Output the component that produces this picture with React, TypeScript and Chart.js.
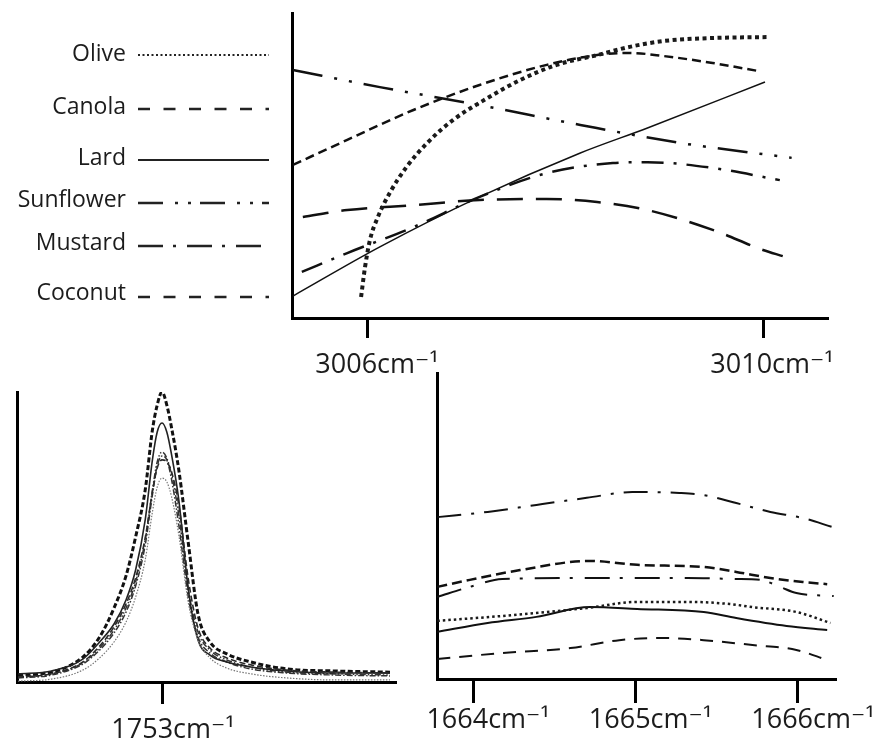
import React, { useEffect, useRef } from 'react';
import { Chart, registerables } from 'chart.js';
Chart.register(...registerables);

// ---------- shared ----------
const seriesNames = ['Olive', 'Canola', 'Lard', 'Sunflower', 'Mustard', 'Coconut'];

// ---------- top panel (3006–3010 cm-1) ----------
const topTicks = [3006, 3010];
const topOliveX = [3005.93, 3005.97, 3006.02, 3006.10, 3006.22, 3006.39, 3006.60, 3006.86, 3007.21, 3007.54, 3007.91, 3008.32, 3008.65, 3008.99, 3009.49, 3010.04];
const topOliveY = [6.9, 16.7, 25.6, 33.1, 41.0, 49.5, 57.4, 64.9, 72.1, 78.0, 83.0, 86.2, 88.9, 90.8, 91.8, 92.1];
const topCanolaX = [3005.34, 3005.79, 3006.46, 3007.13, 3007.81, 3008.32, 3008.83, 3009.49, 3010.0, 3010.2];
const topCanolaY = [33.1, 35.4, 37.0, 38.7, 39.0, 38.0, 35.4, 28.9, 22.3, 20.3];
const topLardX = [3005.24, 3006.12, 3007.13, 3008.15, 3008.83, 3010.02];
const topLardY = [7.2, 23.3, 39.7, 54.1, 62.3, 77.4];
const topSunflowerX = [3005.24, 3006.12, 3007.13, 3008.15, 3009.16, 3010.29];
const topSunflowerY = [81.3, 75.7, 69.8, 63.3, 57.4, 52.5];
const topMustardX = [3005.33, 3005.79, 3006.46, 3007.13, 3007.81, 3008.48, 3008.83, 3009.49, 3010.17];
const topMustardY = [15.1, 21.3, 29.8, 39.7, 47.5, 50.8, 51.1, 49.2, 45.2];
const topCoconutX = [3005.24, 3005.79, 3006.46, 3007.13, 3007.81, 3008.32, 3008.65, 3008.99, 3009.49, 3009.95];
const topCoconutY = [50.2, 58.4, 68.2, 76.4, 83.0, 86.2, 86.9, 85.9, 83.6, 81.0];

// ---------- bottom-left panel (1753 cm-1 carbonyl band) ----------
const blTicks = [1753];
const blX = [1693, 1707, 1720, 1727, 1733, 1738, 1742, 1746, 1749, 1751, 1753, 1755, 1757, 1760, 1764, 1768, 1773, 1780, 1790, 1805, 1825, 1848];
const blOliveY = [0.3, 1, 4.1, 8.3, 13.8, 20.7, 29.3, 42.1, 58.6, 67.2, 70.3, 69, 63.8, 50.7, 27.2, 14.5, 8.3, 4.8, 2.8, 1.4, 0.7, 0.7];
const blCanolaY = [1.7, 2.8, 6.9, 12.4, 19, 26.9, 35.9, 49.7, 65.5, 73.8, 76.6, 75.9, 72.4, 61, 35.2, 18.6, 11.7, 8.3, 5.9, 4.1, 3.4, 3.1];
const blLardY = [2.8, 3.8, 7.9, 13.8, 20, 28.3, 38.6, 55.9, 76.6, 86.2, 89.3, 86.2, 78.3, 62.8, 31.7, 14.5, 9.3, 6.9, 5.2, 3.8, 3.1, 3.1];
const blSunflowerY = [1.7, 2.8, 6.6, 11.7, 17.9, 25.5, 34.5, 49, 66.2, 75.9, 79.3, 77.2, 71.4, 57.6, 31.7, 17.2, 11, 7.6, 5.2, 3.4, 2.8, 2.4];
const blMustardY = [1.4, 2.4, 6.2, 11, 16.9, 24.1, 33.1, 47.2, 64.5, 74.5, 77.9, 76.6, 69.7, 54.1, 29, 15.5, 10, 6.9, 4.5, 3.1, 2.4, 2.1];
const blCoconutY = [2.4, 3.4, 8.6, 15.5, 25.5, 36.6, 50, 66.2, 86.9, 95.5, 100, 95.5, 87.6, 73.1, 47.6, 23.4, 13.8, 9.7, 6.9, 4.5, 3.8, 3.4];

// ---------- bottom-right panel (1664–1666 cm-1) ----------
const brTicks = [1664, 1665, 1666];
const brOliveX = [1663.78, 1664.18, 1664.70, 1665.01, 1665.32, 1665.58, 1665.72, 1665.99, 1666.20];
const brOliveY = [19.0, 20.6, 23.2, 25.2, 25.2, 24.5, 23.5, 21.9, 18.3];
const brCanolaX = [1663.78, 1664.18, 1664.60, 1664.90, 1665.17, 1665.42, 1665.72, 1665.99, 1666.18];
const brCanolaY = [6.5, 8.5, 10.1, 12.7, 13.4, 12.7, 11.1, 9.5, 6.2];
const brLardX = [1663.78, 1664.09, 1664.39, 1664.72, 1665.01, 1665.42, 1665.62, 1665.93, 1666.18];
const brLardY = [15.4, 18.3, 20.3, 23.5, 22.9, 21.9, 19.9, 17.3, 16.0];
const brSunflowerX = [1663.78, 1664.09, 1664.39, 1664.70, 1664.98, 1665.27, 1665.42, 1665.62, 1665.83, 1666.03, 1666.21];
const brSunflowerY = [52.9, 54.6, 56.9, 59.2, 61.1, 60.8, 60.1, 57.5, 54.6, 52.6, 49.7];
const brMustardX = [1663.78, 1663.98, 1664.18, 1664.70, 1665.32, 1665.62, 1665.77, 1665.89, 1665.99, 1666.22];
const brMustardY = [26.8, 30.1, 32.7, 33.0, 33.0, 32.7, 32.4, 30.1, 28.1, 27.1];
const brCoconutX = [1663.78, 1663.98, 1664.29, 1664.72, 1665.01, 1665.42, 1665.62, 1665.83, 1666.03, 1666.18];
const brCoconutY = [30.1, 32.4, 35.6, 38.6, 37.3, 36.6, 35.0, 33.0, 31.7, 31.0];

type Style = { color: string; width: number; dash: number[] };

const topStyles: Style[] = [
  { color: '#1a1a1a', width: 4, dash: [4, 3.5] },
  { color: '#111', width: 2.5, dash: [26, 13] },
  { color: '#111', width: 1.5, dash: [] },
  { color: '#111', width: 2.5, dash: [30, 12, 3, 12, 3, 12] },
  { color: '#111', width: 2.5, dash: [22, 10, 3, 10] },
  { color: '#111', width: 2.5, dash: [9, 5] },
];
const blStyles: Style[] = [
  { color: '#777', width: 1.2, dash: [1.5, 1.5] },
  { color: '#2a2a2a', width: 1.6, dash: [6, 3] },
  { color: '#222', width: 1.6, dash: [] },
  { color: '#333', width: 1.5, dash: [6, 2, 1.5, 2, 1.5, 2] },
  { color: '#333', width: 1.5, dash: [6, 2, 1.5, 2] },
  { color: '#111', width: 3, dash: [5, 2.5] },
];
const brStyles: Style[] = [
  { color: '#1a1a1a', width: 2.5, dash: [2.5, 3] },
  { color: '#111', width: 2, dash: [13, 9] },
  { color: '#111', width: 2, dash: [] },
  { color: '#111', width: 2, dash: [24, 10, 3, 10] },
  { color: '#111', width: 2, dash: [25, 10, 3, 12] },
  { color: '#111', width: 2.5, dash: [10, 5] },
];
const legendStyles: Style[] = [
  { color: '#222', width: 2, dash: [2, 2.5] },
  { color: '#222', width: 2.5, dash: [12, 13.5] },
  { color: '#222', width: 2, dash: [] },
  { color: '#222', width: 2.5, dash: [25, 12, 3, 10, 3, 9] },
  { color: '#222', width: 2.5, dash: [25, 10, 3, 11] },
  { color: '#222', width: 2.5, dash: [12, 13.5] },
];

function ds(label: string, xs: number[], ys: number[], st: Style) {
  return {
    label,
    data: xs.map((x, i) => ({ x, y: ys[i] })),
    borderColor: st.color,
    backgroundColor: st.color,
    borderWidth: st.width,
    borderDash: st.dash,
    borderCapStyle: 'butt',
    pointRadius: 0,
    fill: false,
    cubicInterpolationMode: 'monotone',
  };
}

const LABEL_FONT = { family: '"Open Sans", "DejaVu Sans", sans-serif', size: 27 };

function xAxis(min: number, max: number, ticks: number[], tickLen: number, pad: number, labelOffset: number, height: number) {
  return {
    type: 'linear',
    min,
    max,
    afterBuildTicks: (s: any) => {
      s.ticks = ticks.map((v) => ({ value: v }));
    },
    afterFit: (s: any) => {
      s.height = height;
      s.paddingLeft = 0;
      s.paddingRight = 0;
    },
    grid: { display: true, drawOnChartArea: false, drawTicks: true, tickLength: tickLen, tickWidth: 3, tickColor: '#000', color: '#000', lineWidth: 3 },
    border: { display: true, color: '#000', width: 3 },
    ticks: {
      padding: pad,
      labelOffset,
      maxRotation: 0,
      autoSkip: false,
      color: '#1c1c1c',
      font: LABEL_FONT,
      callback: (v: any) => `${v}cm⁻¹`,
    },
  };
}

function yAxis() {
  return {
    type: 'linear',
    min: 0,
    max: 100,
    display: true,
    ticks: { display: false },
    grid: { display: false, drawTicks: false },
    border: { display: true, color: '#000', width: 3 },
    afterFit: (s: any) => {
      s.width = 0;
    },
  };
}

const legendPlugin = {
  id: 'sideLegend',
  afterDraw(chart: any) {
    const ctx = chart.ctx;
    const textY = [54, 107, 158, 200, 243, 293];
    const lineY = [55, 109, 160, 203, 246, 297];
    ctx.save();
    ctx.font = '23px "Open Sans", "DejaVu Sans", sans-serif';
    ctx.fillStyle = '#1c1c1c';
    ctx.textAlign = 'right';
    ctx.textBaseline = 'middle';
    chart.data.datasets.forEach((d: any, i: number) => {
      ctx.fillText(d.label, 126, textY[i]);
      const st = legendStyles[i];
      ctx.strokeStyle = st.color;
      ctx.lineWidth = st.width;
      ctx.setLineDash(st.dash);
      ctx.beginPath();
      ctx.moveTo(138, lineY[i]);
      ctx.lineTo(269, lineY[i]);
      ctx.stroke();
    });
    ctx.restore();
  },
};

function baseOptions(padding: any, x: any) {
  return {
    responsive: false,
    animation: false,
    events: [],
    layout: { padding },
    plugins: { legend: { display: false }, tooltip: { enabled: false } },
    scales: { x, y: yAxis() },
  };
}

const topConfig = () => ({
  type: 'line',
  data: {
    datasets: [
      ds(seriesNames[0], topOliveX, topOliveY, topStyles[0]),
      ds(seriesNames[1], topCanolaX, topCanolaY, topStyles[1]),
      ds(seriesNames[2], topLardX, topLardY, topStyles[2]),
      ds(seriesNames[3], topSunflowerX, topSunflowerY, topStyles[3]),
      ds(seriesNames[4], topMustardX, topMustardY, topStyles[4]),
      ds(seriesNames[5], topCoconutX, topCoconutY, topStyles[5]),
    ],
  },
  options: baseOptions({ left: 292, top: 13, right: 53, bottom: 0 }, xAxis(3005.2304, 3010.648, topTicks, 20, 11, 9, 424)),
  plugins: [legendPlugin],
});

const blConfig = () => ({
  type: 'line',
  data: {
    datasets: [
      ds(seriesNames[0], blX, blOliveY, blStyles[0]),
      ds(seriesNames[1], blX, blCanolaY, blStyles[1]),
      ds(seriesNames[2], blX, blLardY, blStyles[2]),
      ds(seriesNames[3], blX, blSunflowerY, blStyles[3]),
      ds(seriesNames[4], blX, blMustardY, blStyles[4]),
      ds(seriesNames[5], blX, blCoconutY, blStyles[5]),
    ],
  },
  options: baseOptions({ left: 17, top: 392, right: 485, bottom: 0 }, xAxis(1692.58, 1850.08, blTicks, 22, 10, 11, 60)),
});

const brConfig = () => ({
  type: 'line',
  data: {
    datasets: [
      ds(seriesNames[0], brOliveX, brOliveY, brStyles[0]),
      ds(seriesNames[1], brCanolaX, brCanolaY, brStyles[1]),
      ds(seriesNames[2], brLardX, brLardY, brStyles[2]),
      ds(seriesNames[3], brSunflowerX, brSunflowerY, brStyles[3]),
      ds(seriesNames[4], brMustardX, brMustardY, brStyles[4]),
      ds(seriesNames[5], brCoconutX, brCoconutY, brStyles[5]),
    ],
  },
  options: baseOptions({ left: 437, top: 373, right: 45, bottom: 0 }, xAxis(1663.778, 1666.228, brTicks, 24, 1, 15, 63)),
});

function ChartCanvas({ make }: { make: () => any }) {
  const ref = useRef<HTMLCanvasElement | null>(null);
  useEffect(() => {
    if (!ref.current) return;
    const chart = new Chart(ref.current, make());
    return () => chart.destroy();
  }, [make]);
  return (
    <canvas
      ref={ref}
      width={880}
      height={742}
      style={{ position: 'absolute', left: 0, top: 0, width: 880, height: 742 }}
    />
  );
}

export default function App() {
  return (
    <div style={{ position: 'fixed', left: 0, top: 0, width: 880, height: 742, background: '#ffffff', overflow: 'hidden' }}>
      <ChartCanvas make={topConfig} />
      <ChartCanvas make={blConfig} />
      <ChartCanvas make={brConfig} />
    </div>
  );
}
